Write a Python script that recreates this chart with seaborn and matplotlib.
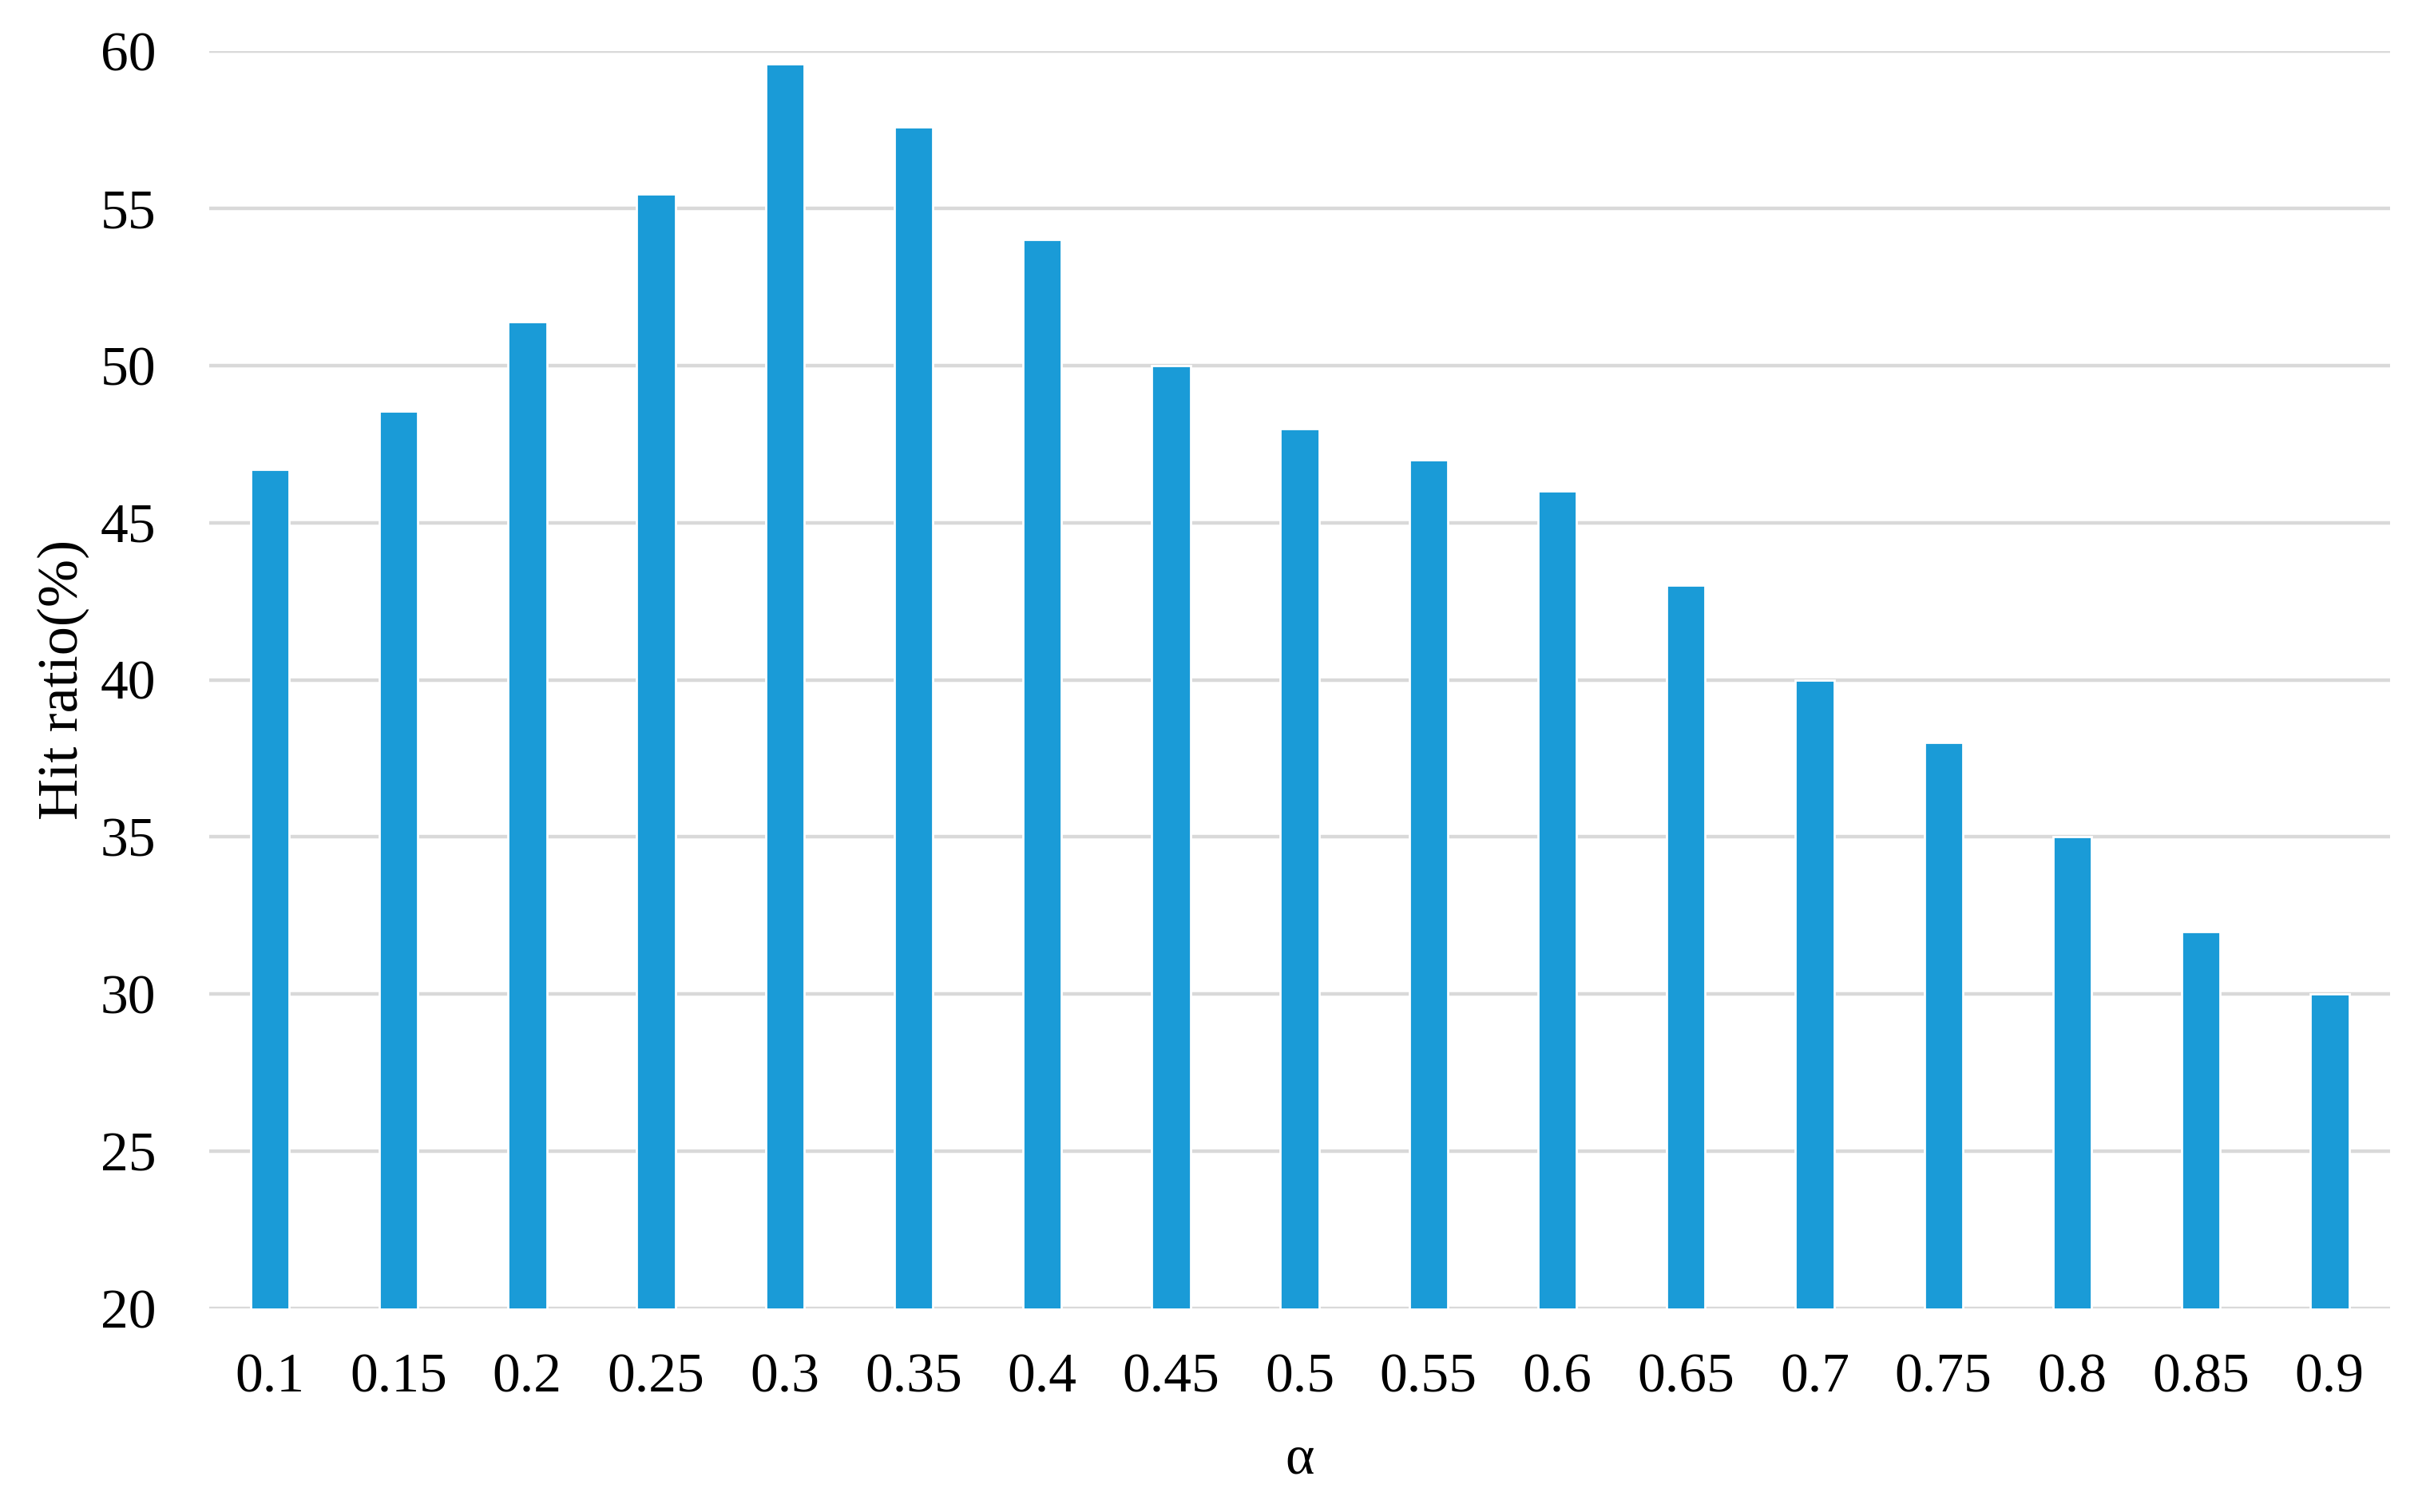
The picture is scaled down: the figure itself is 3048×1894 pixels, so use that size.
import matplotlib
matplotlib.use("Agg")
import matplotlib.pyplot as plt
import seaborn as sns
import pandas as pd

# values
alphas = ["0.1", "0.15", "0.2", "0.25", "0.3", "0.35", "0.4", "0.45", "0.5",
          "0.55", "0.6", "0.65", "0.7", "0.75", "0.8", "0.85", "0.9"]
hit_ratio = [46.7, 48.55, 51.4, 55.45, 59.6, 57.6, 54.0, 50.0, 48.0,
             47.0, 46.0, 43.0, 40.0, 38.0, 35.0, 32.0, 30.0]
y_ticks = [20, 25, 30, 35, 40, 45, 50, 55, 60]

bar_color = "#1a9bd7"
grid_color = "#d9d9d9"

sns.set_style("white")
plt.rcParams['font.family'] = ['Liberation Serif', 'DejaVu Serif']
plt.rcParams['text.color'] = 'black'
plt.rcParams['axes.labelcolor'] = 'black'
plt.rcParams['xtick.color'] = 'black'
plt.rcParams['ytick.color'] = 'black'

df = pd.DataFrame({"alpha": alphas, "hit": hit_ratio})

fig = plt.figure(figsize=(15.24, 9.47), dpi=200)
ax = fig.add_axes([0.086, 0.1346, 0.896, 0.8316])

ax.set_axisbelow(True)
ax.set_ylim(20, 60)
ax.set_yticks(y_ticks)
ax.yaxis.grid(True, color=grid_color, linewidth=1.6)
ax.xaxis.grid(False)

sns.barplot(data=df, x="alpha", y="hit", color=bar_color, width=0.3,
            saturation=1, ax=ax)
ax.set_xlim(-0.47, len(alphas) - 0.53)

for side in ["top", "right", "left", "bottom"]:
    ax.spines[side].set_visible(False)
ax.tick_params(axis="both", length=0, labelsize=25)
ax.tick_params(axis="x", pad=20)
ax.tick_params(axis="y", pad=24)

ax.set_xlabel("α", fontsize=25, labelpad=14)
ax.set_ylabel("Hit ratio(%)", fontsize=26, labelpad=5)

fig.savefig("out.png", dpi=200, facecolor="white")
